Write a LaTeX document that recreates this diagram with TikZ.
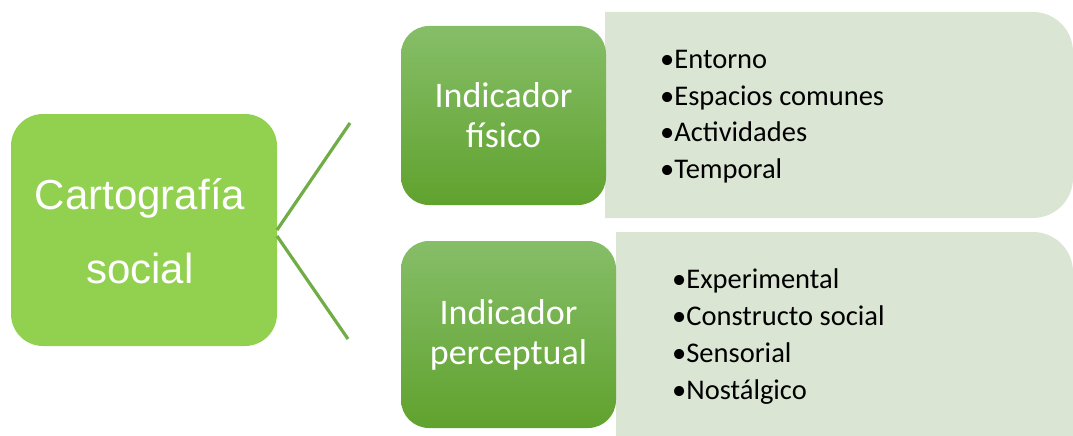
\documentclass[tikz,border=0pt]{standalone}
\usepackage{fontspec}
\setmainfont{Carlito}
\newfontfamily\arialf{Liberation Sans}
\definecolor{maingreen}{HTML}{92D050}
\definecolor{linegreen}{HTML}{70AD47}
\definecolor{darktop}{HTML}{86BE68}
\definecolor{darkbot}{HTML}{60A22E}
\definecolor{lightfill}{HTML}{DAE5D3}
\begin{document}
\begin{tikzpicture}[x=1pt,y=-1pt,
  mainbox/.style={fill=maingreen, rounded corners=32pt, minimum width=266pt, minimum height=232pt, inner sep=0pt},
  maintext/.style={inner sep=0pt, text=white, align=center, font=\arialf\fontsize{42}{74}\selectfont},
  indbox/.style={top color=darktop, bottom color=darkbot, rounded corners=28pt, inner sep=0pt, text=white, align=center, font=\fontsize{36}{40}\selectfont},
  item/.style={anchor=base west, inner sep=0pt, font=\fontsize{28.5}{37}\selectfont, text=black},
  conn/.style={draw=linegreen, line width=3.2pt}
]
\useasboundingbox (0,0) rectangle (1073,436);
% light panels
\fill[lightfill, rounded corners=40pt] (605,12) [sharp corners] -- (605,12) [rounded corners=40pt] -- (1073,12) -- (1073,218) [sharp corners] -- (605,218) -- cycle;
\fill[lightfill, rounded corners=40pt] (616,232) [sharp corners] -- (616,232) [rounded corners=40pt] -- (1073,232) -- (1073,480) [sharp corners] -- (616,480) -- cycle;
% main box
\node[mainbox] (main) at (144,230) {};
\node[maintext] (maint) at (140,231) {Cartograf\'ia\\social};
% indicator boxes
\node[indbox, minimum width=205pt, minimum height=179pt] (fis) at (503.5,115.5) {Indicador\\f\'isico};
\node[indbox, minimum width=215pt, minimum height=187pt] (per) at (508.5,334.5) {Indicador\\perceptual};
% connectors
\coordinate (c1) at (350,123);
\coordinate (c2) at (348,339);
\coordinate (m1) at (277,230);
\coordinate (m2) at (277,236);
\draw[conn] (m1) -- (c1);
\draw[conn] (m2) -- (c2);
% items
\node[item] (i1) at (660,68) {•Entorno};
\node[item] (i2) at (660,105) {•Espacios comunes};
\node[item] (i3) at (660,141) {•Actividades};
\node[item] (i4) at (660,178) {•Temporal};
\node[item] (j1) at (672,288) {•Experimental};
\node[item] (j2) at (672,325) {•Constructo social};
\node[item] (j3) at (672,362) {•Sensorial};
\node[item] (j4) at (672,399) {•Nostálgico};
\end{tikzpicture}
\end{document}
